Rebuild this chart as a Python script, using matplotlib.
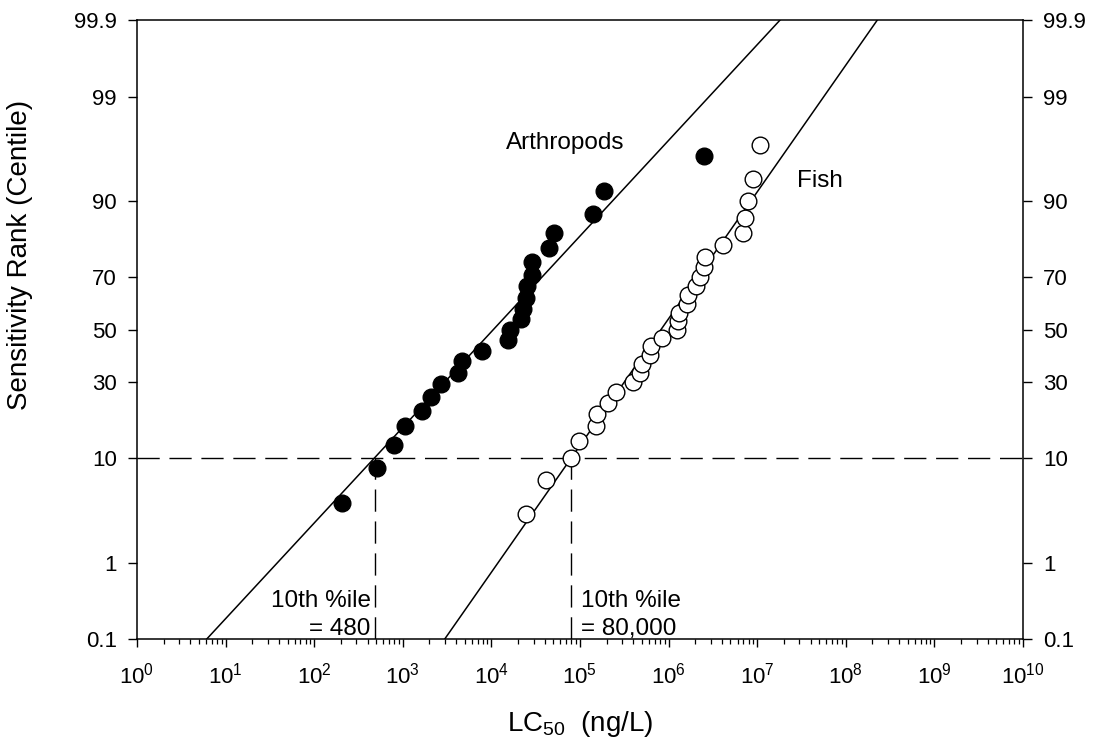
"""
Species sensitivity distributions (log-normal) for arthropods and fish,
plotted on a probit (normal probability) scale against LC50.
"""

from statistics import NormalDist

import numpy as np
import matplotlib

matplotlib.use("Agg")
import matplotlib.pyplot as plt
from matplotlib import ticker

plt.rcParams["font.family"] = ["Liberation Sans", "DejaVu Sans"]
plt.rcParams["mathtext.fontset"] = "custom"
plt.rcParams["mathtext.rm"] = "Liberation Sans"
plt.rcParams["mathtext.it"] = "Liberation Sans:italic"
plt.rcParams["mathtext.bf"] = "Liberation Sans:bold"

# --- data ------------------------------------------------------------------
arth_lc50 = [208, 512, 802, 1060, 1660, 2080, 2680, 4230, 4660, 7890,
             15300, 16200, 21400, 22900, 24400, 25000, 28500, 28500,
             44700, 50500, 141000, 185000, 2500000]
arth_rank = [4.2, 8.3, 12.5, 16.7, 20.8, 25.0, 29.2, 33.3, 37.5, 41.7,
             45.8, 50.0, 54.2, 58.3, 62.5, 66.7, 70.8, 75.0, 79.2, 83.3,
             87.5, 91.7, 95.8]

fish_lc50 = [24400, 41000, 79100, 97500, 153000, 154000, 208000, 253000,
             399000, 475000, 497000, 616000, 633000, 849000, 1230000,
             1270000, 1310000, 1600000, 1640000, 2040000, 2260000, 2510000,
             2590000, 4080000, 6850000, 7280000, 7940000, 8900000, 10800000]
fish_rank = [3.3, 6.7, 10.0, 13.3, 16.7, 20.0, 23.3, 26.7, 30.0, 33.3,
             36.7, 40.0, 43.3, 46.7, 50.0, 53.3, 56.7, 60.0, 63.3, 66.7,
             70.0, 73.3, 76.7, 80.0, 83.3, 86.7, 90.0, 93.3, 96.7]

# fitted log-normal: mean and sd of log10(LC50)
arth_mu, arth_sigma = 4.023, 1.047
fish_mu, fish_sigma = 5.915, 0.79

# 10th percentile hazard concentrations
arth_hc10 = 480
fish_hc10 = 80000

rank_ticks = [0.1, 1, 10, 30, 50, 70, 90, 99, 99.9]
rank_labels = ["0.1", "1", "10", "30", "50", "70", "90", "99", "99.9"]

# --- probit scale ----------------------------------------------------------
_nd = NormalDist()
_ppf = np.vectorize(lambda p: _nd.inv_cdf(p), otypes=[float])
_cdf = np.vectorize(lambda z: _nd.cdf(z), otypes=[float])


def probit_fwd(p):
    p = np.clip(np.asarray(p, dtype=float) / 100.0, 1e-9, 1 - 1e-9)
    return _ppf(p)


def probit_inv(z):
    return _cdf(np.asarray(z, dtype=float)) * 100.0


def fit_line(mu, sigma):
    z = np.linspace(-3.3, 3.3, 200)
    return 10 ** (mu + sigma * z), probit_inv(z)


fig = plt.figure(figsize=(10.95, 7.42), dpi=100)
ax = fig.add_axes([0.1251, 0.1388, 0.8091, 0.8342])

ax.set_xscale("log")
ax.set_yscale("function", functions=(probit_fwd, probit_inv))
ax.set_xlim(1, 1e10)
ax.set_ylim(0.1, 99.9)

# fitted distributions
for mu, sigma in [(arth_mu, arth_sigma), (fish_mu, fish_sigma)]:
    lx, ly = fit_line(mu, sigma)
    ax.plot(lx, ly, color="black", lw=1.1, zorder=2)

# 10th percentile guide lines
dash = dict(color="black", lw=1.0, dashes=(16, 7), zorder=1)
ax.axhline(10, **dash)
ax.plot([arth_hc10, arth_hc10], [0.1, 10], **dash)
ax.plot([fish_hc10, fish_hc10], [0.1, 10], **dash)

ax.plot(arth_lc50, arth_rank, "o", ms=12, mfc="black", mec="black",
        mew=1.0, zorder=3)
ax.plot(fish_lc50, fish_rank, "o", ms=12, mfc="white", mec="black",
        mew=1.0, zorder=3)

# labels
ax.text(6.8e4, 96.9, "Arthropods", fontsize=17.5, ha="center", va="center")
ax.text(5.1e7, 93.1, "Fish", fontsize=17.5, ha="center", va="center")

xt = ax.get_xaxis_transform()
for hc, side in [(arth_hc10, "right"), (fish_hc10, "left")]:
    off = -4 if side == "right" else 10
    for line, yb in [("10th %ile", 0.0522), (f"= {hc:,}", 0.0065)]:
        ax.annotate(line, xy=(hc, yb), xycoords=xt, xytext=(off, 0),
                    textcoords="offset pixels", ha=side, va="baseline",
                    fontsize=17.5)

# axes and ticks
ax.yaxis.set_major_locator(ticker.FixedLocator(rank_ticks))
ax.yaxis.set_major_formatter(ticker.FixedFormatter(rank_labels))
ax.yaxis.set_minor_locator(ticker.NullLocator())
ax.xaxis.set_major_locator(ticker.LogLocator(base=10, numticks=20))
ax.xaxis.set_minor_locator(ticker.LogLocator(base=10, subs=np.arange(2, 10),
                                             numticks=200))
ax.xaxis.set_minor_formatter(ticker.NullFormatter())

ax.tick_params(axis="y", which="major", direction="out", length=6.5,
               width=1.0, labelsize=16, pad=8, left=True, right=True,
               labelleft=True, labelright=True)
ax.tick_params(axis="x", which="major", direction="out", length=6,
               width=1.0, labelsize=16, pad=11, top=False)
ax.tick_params(axis="x", which="minor", direction="out", length=3.5,
               width=0.9, top=False)

for sp in ax.spines.values():
    sp.set_linewidth(1.1)

ax.set_xlabel("LC$_{50}$  (ng/L)", fontsize=20, labelpad=15)
ax.set_ylabel("Sensitivity Rank (Centile)", fontsize=20)
ax.yaxis.set_label_coords(-0.117, 0.62)

fig.savefig("out.png", dpi=100)
